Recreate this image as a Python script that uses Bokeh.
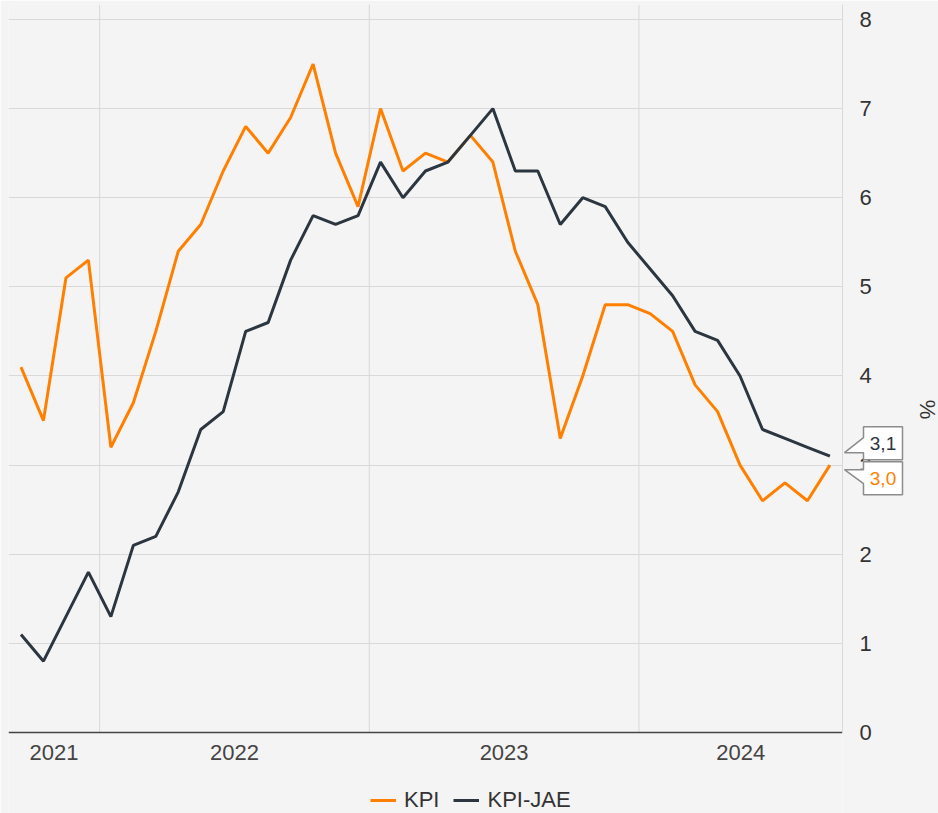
import pandas as pd
from bokeh.plotting import figure
from bokeh.models import Range1d, FixedTicker, Legend, LegendItem
from bokeh.core.properties import value
from bokeh.embed import file_html
from bokeh.resources import INLINE

# ---- data (monthly, Sep 2021 - Sep 2024) ----
months = list(pd.date_range("2021-09-01", "2024-09-01", freq="MS"))
kpi = [4.1, 3.5, 5.1, 5.3, 3.2, 3.7, 4.5, 5.4, 5.7, 6.3, 6.8, 6.5,
       6.9, 7.5, 6.5, 5.9, 7.0, 6.3, 6.5, 6.4, 6.7, 6.4, 5.4, 4.8,
       3.3, 4.0, 4.8, 4.8, 4.7, 4.5, 3.9, 3.6, 3.0, 2.6, 2.8, 2.6, 3.0]
kpi_jae = [1.1, 0.8, 1.3, 1.8, 1.3, 2.1, 2.2, 2.7, 3.4, 3.6, 4.5, 4.6,
           5.3, 5.8, 5.7, 5.8, 6.4, 6.0, 6.3, 6.4, 6.7, 7.0, 6.3, 6.3,
           5.7, 6.0, 5.9, 5.5, 5.2, 4.9, 4.5, 4.4, 4.0, 3.4, 3.3, 3.2, 3.1]
series_names = ["KPI", "KPI-JAE"]
last_labels = ["3,0", "3,1"]
y_ticks = [0, 1, 2, 3, 4, 5, 6, 7, 8]

ORANGE = "#ff8000"
DARK = "#2c3640"
BG = "#f4f4f4"
GRID = "#d9d9d9"
FONT = "Liberation Sans"

x = list(range(len(months)))

# frame reaches below the x axis so the legend can sit inside it
FW, FH = 834, 810
x_start, x_end = -0.556, len(months) - 1 + 0.56
y_end = 8.168
y_start = -0.92
sx = FW / (x_end - x_start)
sy = FH / (y_end - y_start)

p = figure(frame_width=FW, frame_height=FH, output_backend="svg", toolbar_location=None,
           x_range=Range1d(x_start, x_end), y_range=Range1d(y_start, y_end),
           y_axis_location="right",
           min_border_left=8, min_border_top=4, min_border_right=0,
           min_border_bottom=0,
           background_fill_color=BG, border_fill_color=BG, outline_line_color=None)

# year boundaries and label centres derived from the months
jan_idx = [i for i, m in enumerate(months) if m.month == 1]
bounds = [i - 0.5 for i in jan_idx]
years = sorted(set(m.year for m in months))
edges = [x_start] + bounds + [x_end]
centres = [(edges[k] + edges[k + 1]) / 2 for k in range(len(years))]

# vertical year grid lines only above the x axis
p.xgrid.grid_line_color = None
p.segment(x0=bounds, y0=[0] * len(bounds), x1=bounds, y1=[y_end] * len(bounds),
          line_color=GRID, line_width=1)
p.ygrid.ticker = FixedTicker(ticks=y_ticks[1:])
p.ygrid.grid_line_color = GRID

xa = p.xaxis[0]
xa.fixed_location = 0
xa.ticker = FixedTicker(ticks=centres)
xa.major_label_overrides = {c: str(y) for c, y in zip(centres, years)}
xa.major_tick_line_color = None
xa.minor_tick_line_color = None
xa.axis_line_color = "#444444"
xa.axis_line_width = 1.5
xa.major_label_text_font = FONT
xa.major_label_text_font_size = "22px"
xa.major_label_text_color = "#444444"
xa.major_label_standoff = 6

ya = p.yaxis[0]
ya.bounds = (0, y_end)
ya.ticker = FixedTicker(ticks=y_ticks)
ya.major_tick_line_color = None
ya.minor_tick_line_color = None
ya.axis_line_color = GRID
ya.major_label_text_font = FONT
ya.major_label_text_font_size = "22px"
ya.major_label_text_color = "#333333"
ya.major_label_standoff = 11
ya.axis_label = "%"
ya.axis_label_text_font = FONT
ya.axis_label_text_font_style = "normal"
ya.axis_label_text_font_size = "22px"
ya.axis_label_text_color = "#333333"
ya.axis_label_standoff = 40

r1 = p.line(x, kpi, line_color=ORANGE, line_width=3)
r2 = p.line(x, kpi_jae, line_color=DARK, line_width=3)

legend = Legend(items=[LegendItem(label=series_names[0], renderers=[r1]),
                       LegendItem(label=series_names[1], renderers=[r2])],
                orientation="horizontal", location=(362, 0),
                label_text_font=FONT, label_text_font_size="22px",
                label_text_color="#333333", glyph_width=26, glyph_height=28,
                spacing=14, label_standoff=8, background_fill_alpha=0,
                border_line_color=None, padding=0, margin=0, label_height=28)
p.add_layout(legend)

# end-value callouts (positions derived from last values), drawn at overlay level
mid = (kpi[-1] + kpi_jae[-1]) / 2
px_x = lambda d: x_end + d / sx
px_y = lambda d: mid + d / sy
L, R, TIP = px_x(21), px_x(60), px_x(2)

p.patch([L, R, R, L, L, TIP, L],
        [px_y(34), px_y(34), px_y(1), px_y(1), px_y(8), px_y(8), px_y(23)],
        fill_color="white", line_color="#8c8c8c", line_width=1.5, level="overlay")
p.patch([L, R, R, L, L, TIP, L],
        [px_y(-1), px_y(-1), px_y(-34), px_y(-34), px_y(-23), px_y(-9), px_y(-9)],
        fill_color="white", line_color="#8c8c8c", line_width=1.5, level="overlay")
p.text(x=[(L + R) / 2, (L + R) / 2], y=[px_y(17.5), px_y(-17.5)],
       text=[last_labels[1], last_labels[0]], text_color=[DARK, ORANGE],
       text_align="center", text_baseline="middle",
       text_font=value(FONT), text_font_size="19px", level="overlay")

open("out.html", "w").write(file_html(p, INLINE))
